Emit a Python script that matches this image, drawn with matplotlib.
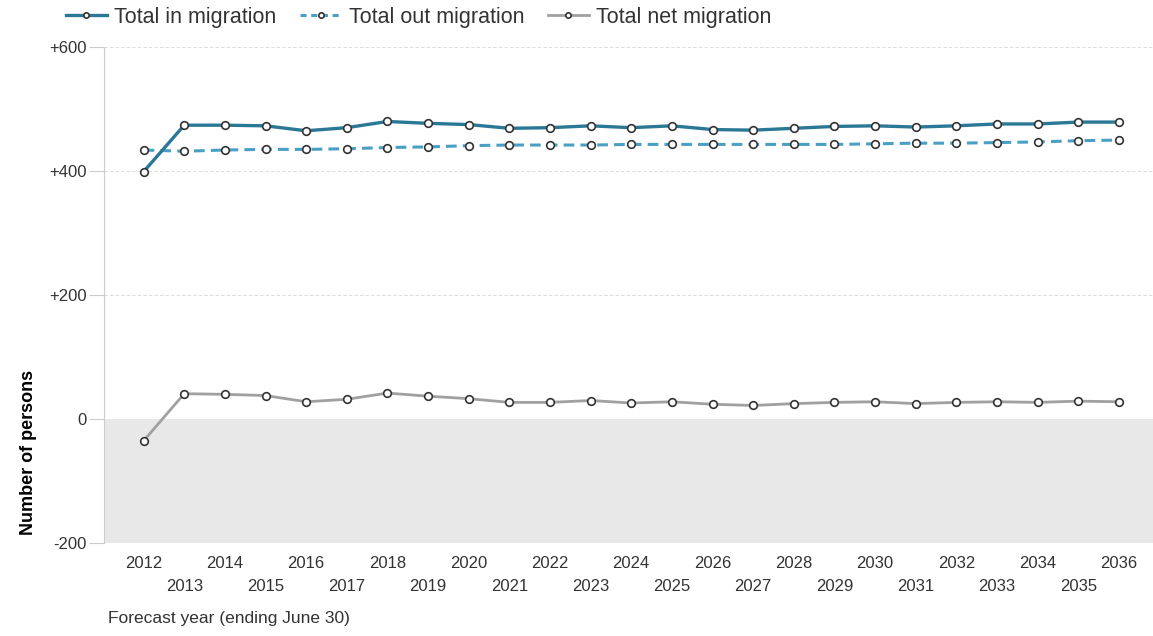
import matplotlib
matplotlib.use("Agg")
import matplotlib.pyplot as plt
from matplotlib.lines import Line2D

years = list(range(2012, 2037))
in_migration = [399, 474, 474, 473, 465, 470, 480, 477, 475, 469, 470, 473,
                470, 473, 467, 466, 469, 472, 473, 471, 473, 476, 476, 479, 479]
out_migration = [434, 432, 434, 435, 435, 436, 438, 439, 441, 442, 442, 442,
                 443, 443, 443, 443, 443, 443, 444, 445, 445, 446, 447, 449, 450]
net_migration = [-35, 41, 40, 38, 28, 32, 42, 37, 33, 27, 27, 30,
                 26, 28, 24, 22, 25, 27, 28, 25, 27, 28, 27, 29, 28]
y_ticks = [-200, 0, 200, 400, 600]
y_labels = ["-200", "0", "+200", "+400", "+600"]

c_in = "#2b7896"
c_out = "#4aa0c4"
c_net = "#a0a0a0"
txt = "#333333"

plt.rcParams["font.family"] = ["Liberation Sans", "DejaVu Sans"]

fig = plt.figure(figsize=(11.53, 6.36), dpi=100)
ax = fig.add_axes([0.090, 0.146, 0.910, 0.780])

# grey band under zero, dashed grid above
ax.axhspan(-200, 0, color="#e8e8e8", zorder=0, lw=0)
for v in [200, 400, 600]:
    ax.axhline(v, color="#dddddd", lw=0.8, ls=(0, (3, 2)), zorder=1)

mk = dict(marker="o", markersize=5.5, markerfacecolor="white",
          markeredgecolor="#333333", markeredgewidth=1.2)
ax.plot(years, out_migration, color=c_out, lw=2.2, ls=(0, (3.5, 2)), zorder=3, **mk)
ax.plot(years, net_migration, color=c_net, lw=2.0, zorder=3, **mk)
ax.plot(years, in_migration, color=c_in, lw=2.4, zorder=4, **mk)

ax.set_xlim(2011.02, 2036.84)
ax.set_ylim(-200, 600)
ax.set_yticks(y_ticks)
ax.set_yticklabels(y_labels, fontsize=12, color=txt)
ax.set_xticks(years)
ax.set_xticklabels([str(y) if y % 2 == 0 else "\n" + str(y) for y in years],
                   fontsize=12, color=txt, linespacing=1.7)
ax.tick_params(axis="x", length=0, pad=9)
ax.tick_params(axis="y", length=11, color="#cccccc", width=0.8, pad=1)

for s in ["top", "right", "bottom"]:
    ax.spines[s].set_visible(False)
ax.spines["left"].set_color("#cccccc")

fig.text(0.025, 0.289, "Number of persons", rotation=90, fontsize=13,
         fontweight="bold", ha="center", va="center")
fig.text(0.094, 0.028, "Forecast year (ending June 30)", fontsize=12.5,
         color=txt, ha="left", va="center")

handles = [
    Line2D([], [], color=c_in, lw=2.4, **mk),
    Line2D([], [], color=c_out, lw=2.2, ls=(0, (2, 1.5)), **mk),
    Line2D([], [], color=c_net, lw=2.0, **mk),
]
fig.legend(handles, ["Total in migration", "Total out migration", "Total net migration"],
           loc="center left", bbox_to_anchor=(0.057, 0.973), ncol=3, frameon=False,
           fontsize=15.5, handlelength=1.9, handletextpad=0.35, columnspacing=1.1,
           borderpad=0, borderaxespad=0, markerscale=0.7, labelcolor=txt)

fig.savefig("out.png", dpi=100)
